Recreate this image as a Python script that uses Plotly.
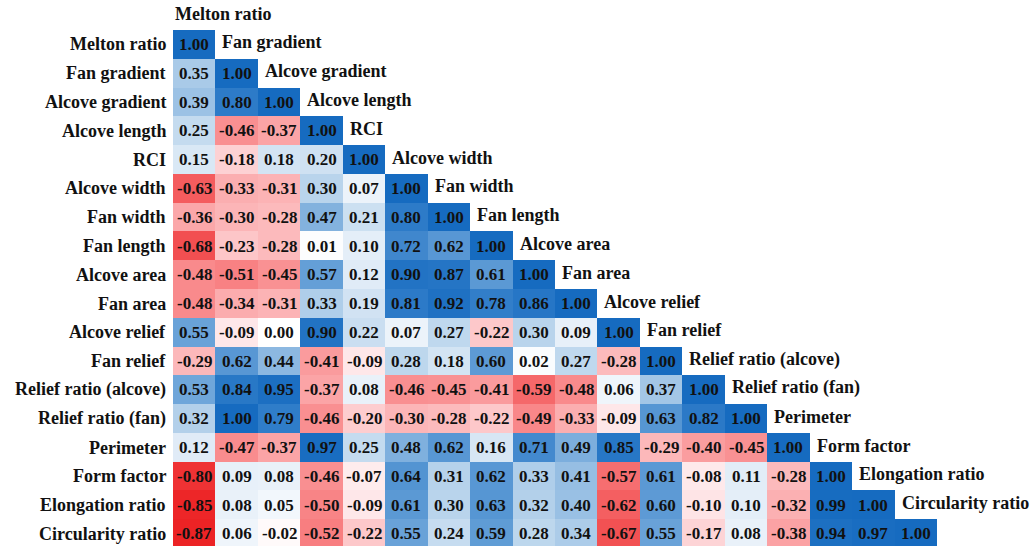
import plotly.graph_objects as go

# Variable names (rows top to bottom, columns left to right)
variables = [
    "Melton ratio", "Fan gradient", "Alcove gradient", "Alcove length", "RCI",
    "Alcove width", "Fan width", "Fan length", "Alcove area", "Fan area",
    "Alcove relief", "Fan relief", "Relief ratio (alcove)", "Relief ratio (fan)",
    "Perimeter", "Form factor", "Elongation ratio", "Circularity ratio",
]

# Lower-triangle correlation coefficients, one list per row
r_melton_ratio = [1.00]
r_fan_gradient = [0.35, 1.00]
r_alcove_gradient = [0.39, 0.80, 1.00]
r_alcove_length = [0.25, -0.46, -0.37, 1.00]
r_rci = [0.15, -0.18, 0.18, 0.20, 1.00]
r_alcove_width = [-0.63, -0.33, -0.31, 0.30, 0.07, 1.00]
r_fan_width = [-0.36, -0.30, -0.28, 0.47, 0.21, 0.80, 1.00]
r_fan_length = [-0.68, -0.23, -0.28, 0.01, 0.10, 0.72, 0.62, 1.00]
r_alcove_area = [-0.48, -0.51, -0.45, 0.57, 0.12, 0.90, 0.87, 0.61, 1.00]
r_fan_area = [-0.48, -0.34, -0.31, 0.33, 0.19, 0.81, 0.92, 0.78, 0.86, 1.00]
r_alcove_relief = [0.55, -0.09, 0.00, 0.90, 0.22, 0.07, 0.27, -0.22, 0.30, 0.09, 1.00]
r_fan_relief = [-0.29, 0.62, 0.44, -0.41, -0.09, 0.28, 0.18, 0.60, 0.02, 0.27, -0.28, 1.00]
r_relief_ratio_alcove = [0.53, 0.84, 0.95, -0.37, 0.08, -0.46, -0.45, -0.41, -0.59, -0.48,
                         0.06, 0.37, 1.00]
r_relief_ratio_fan = [0.32, 1.00, 0.79, -0.46, -0.20, -0.30, -0.28, -0.22, -0.49, -0.33,
                      -0.09, 0.63, 0.82, 1.00]
r_perimeter = [0.12, -0.47, -0.37, 0.97, 0.25, 0.48, 0.62, 0.16, 0.71, 0.49, 0.85,
               -0.29, -0.40, -0.45, 1.00]
r_form_factor = [-0.80, 0.09, 0.08, -0.46, -0.07, 0.64, 0.31, 0.62, 0.33, 0.41, -0.57,
                 0.61, -0.08, 0.11, -0.28, 1.00]
r_elongation_ratio = [-0.85, 0.08, 0.05, -0.50, -0.09, 0.61, 0.30, 0.63, 0.32, 0.40, -0.62,
                      0.60, -0.10, 0.10, -0.32, 0.99, 1.00]
r_circularity_ratio = [-0.87, 0.06, -0.02, -0.52, -0.22, 0.55, 0.24, 0.59, 0.28, 0.34, -0.67,
                       0.55, -0.17, 0.08, -0.38, 0.94, 0.97, 1.00]

rows = [
    r_melton_ratio, r_fan_gradient, r_alcove_gradient, r_alcove_length, r_rci,
    r_alcove_width, r_fan_width, r_fan_length, r_alcove_area, r_fan_area,
    r_alcove_relief, r_fan_relief, r_relief_ratio_alcove, r_relief_ratio_fan,
    r_perimeter, r_form_factor, r_elongation_ratio, r_circularity_ratio,
]

n = len(variables)
z = [row + [None] * (n - len(row)) for row in rows]

# Diverging red-white-blue scale over [-1, 1]
stops = [
    (-1.00, "rgb(226,12,16)"),
    (-0.85, "rgb(237,38,40)"),
    (-0.65, "rgb(243,86,88)"),
    (-0.48, "rgb(249,138,140)"),
    (-0.28, "rgb(252,186,188)"),
    (-0.10, "rgb(254,228,230)"),
    (0.00, "rgb(255,255,255)"),
    (0.10, "rgb(228,238,248)"),
    (0.30, "rgb(185,212,236)"),
    (0.55, "rgb(105,162,216)"),
    (0.80, "rgb(45,123,200)"),
    (1.00, "rgb(22,107,192)"),
]
colorscale = [[(v + 1) / 2, c] for v, c in stops]

fig = go.Figure(
    go.Heatmap(
        z=z,
        x=list(range(n)),
        y=list(range(n)),
        zmin=-1,
        zmax=1,
        colorscale=colorscale,
        showscale=False,
        hoverongaps=False,
        xgap=0,
        ygap=0,
    )
)

serif = "Liberation Serif"
row_px = 516 / (n - 0.083)   # pixel height of one row
annotations = []

# Coefficient labels inside the cells
for i, row in enumerate(rows):
    for j, v in enumerate(row):
        annotations.append(dict(
            x=j, y=i, xref="x", yref="y", text=f"<b>{v:.2f}</b>", showarrow=False,
            font=dict(family=serif, size=17, color="#111111"),
            xanchor="center", yanchor="middle",
        ))

# Row names on the left
for i, name in enumerate(variables):
    annotations.append(dict(
        x=0, y=i, xref="paper", yref="y", text=f"<b>{name}</b>", showarrow=False,
        xshift=-5, xanchor="right", yanchor="middle",
        font=dict(family=serif, size=18, color="#111111"),
    ))

# Column names along the diagonal, one step up and right of each 1.00 cell
for j, name in enumerate(variables):
    annotations.append(dict(
        x=j - 0.5, y=j, xref="x", yref="y", text=f"<b>{name}</b>", showarrow=False,
        xshift=(0 if j == 0 else 5), yshift=row_px + 2, xanchor="left", yanchor="middle",
        font=dict(family=serif, size=18, color="#111111"),
    ))

fig.update_layout(
    width=1035,
    height=546,
    margin=dict(l=173, r=98, t=30, b=0),
    paper_bgcolor="white",
    plot_bgcolor="white",
    font=dict(family=serif),
    annotations=annotations,
    xaxis=dict(range=[-0.5, n - 0.5], visible=False, automargin=False, fixedrange=True),
    yaxis=dict(range=[n - 0.583, -0.5], visible=False, automargin=False, fixedrange=True),
)

fig.write_html("out.html")
